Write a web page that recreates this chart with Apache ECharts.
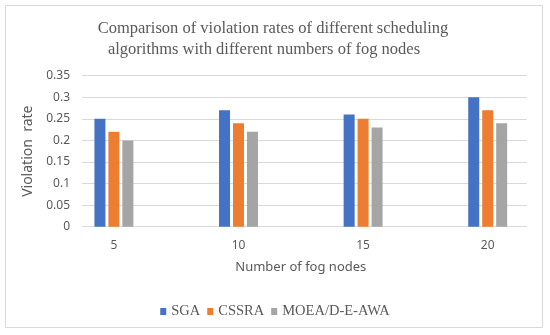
<!DOCTYPE html>
<html><head><meta charset="utf-8">
<script src="https://cdn.jsdelivr.net/npm/echarts@6/dist/echarts.min.js"></script>
<style>html,body{margin:0;padding:0;background:#fff}#c{width:550px;height:335px}</style>
</head><body><div id="c"></div>
<script>
var categories = ['5', '10', '15', '20'];
var seriesNames = ['SGA', 'CSSRA', 'MOEA/D-E-AWA'];
var sga = [0.25, 0.27, 0.26, 0.30];
var cssra = [0.22, 0.24, 0.25, 0.27];
var moea = [0.20, 0.22, 0.23, 0.24];
var yTicks = [0, 0.05, 0.1, 0.15, 0.2, 0.25, 0.3, 0.35];
var titleLines = ['Comparison of violation rates of different scheduling', 'algorithms with different numbers of fog nodes'];
var colors = ['#4472c4', '#ed7d31', '#a5a5a5'];

var chart = echarts.init(document.getElementById('c'), null, {renderer: 'canvas'});
var gridTop = 75.7, gridH = 151;
var vals = [sga, cssra, moea];
var titleStyle = {fontFamily: 'Liberation Serif', fontSize: 16.5, fontWeight: 'normal', color: '#595959'};
chart.setOption({
  animation: false,
  backgroundColor: '#fff',
  graphic: [{type: 'rect', shape: {x: 5.5, y: 5.5, width: 537, height: 322}, style: {fill: 'none', stroke: '#d9d9d9', lineWidth: 1}, z: -1}],
  title: [
    {text: titleLines[0], left: 273, top: 20, textAlign: 'center', padding: 0, textStyle: titleStyle},
    {text: titleLines[1], left: 264, top: 41, textAlign: 'center', padding: 0, textStyle: titleStyle}
  ],
  legend: {
    data: seriesNames, left: 'center', top: 299, itemWidth: 6, itemHeight: 7, itemGap: 7,
    icon: 'rect',
    textStyle: {fontFamily: 'Liberation Serif', fontSize: 14.5, color: '#595959'}
  },
  grid: [
    {left: 82, right: 23, top: gridTop, height: gridH},
    {left: 51.6, width: 507.2, top: gridTop, height: gridH}
  ],
  xAxis: [
    {gridIndex: 0, type: 'category', data: categories, show: false},
    {gridIndex: 1, type: 'category', data: categories,
     axisLine: {show: false}, axisTick: {show: false},
     axisLabel: {margin: 13, fontFamily: 'Noto Sans', fontSize: 12, color: '#595959'},
     name: 'Number of fog nodes', nameLocation: 'middle', nameGap: 34,
     nameTextStyle: {fontFamily: 'Noto Sans', fontSize: 13, color: '#595959'}}
  ],
  yAxis: [
    {gridIndex: 0, type: 'value', min: 0, max: 0.35, interval: 0.05,
     axisLine: {show: false}, axisTick: {show: false},
     splitLine: {lineStyle: {color: '#d9d9d9', width: 1}},
     axisLabel: {margin: 12, fontFamily: 'Noto Sans', fontSize: 12, color: '#595959',
       formatter: function (v) { return String(+v.toFixed(2)); }},
     name: 'Violation  rate', nameLocation: 'middle', nameGap: 38, nameRotate: 90,
     nameTextStyle: {fontFamily: 'Noto Sans', fontSize: 14, color: '#595959'}},
    {gridIndex: 1, type: 'value', min: 0, max: 0.35, interval: 0.05, show: false, splitLine: {show: false}}
  ],
  series: seriesNames.map(function (n, i) {
    return {name: n, type: 'bar', xAxisIndex: 1, yAxisIndex: 1, data: vals[i],
      barWidth: 11, barGap: '27%', itemStyle: {color: colors[i]}};
  })
});
</script></body></html>
